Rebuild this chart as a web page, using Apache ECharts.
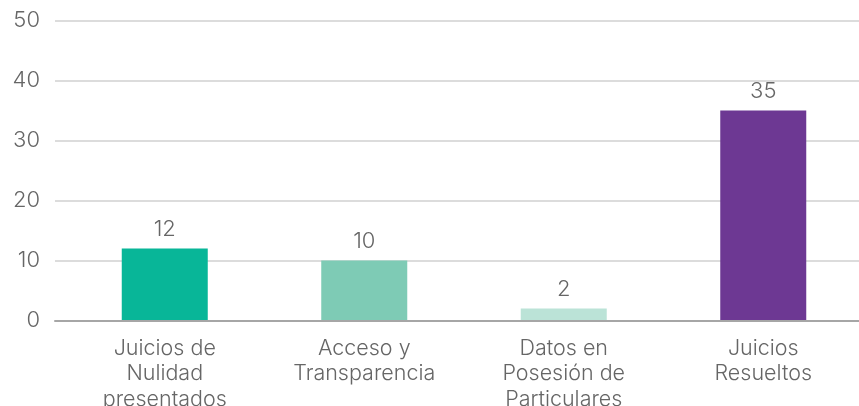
<!DOCTYPE html>
<html><head><meta charset="utf-8">
<script src="https://cdn.jsdelivr.net/npm/echarts@6/dist/echarts.min.js"></script>
<style>html,body{margin:0;padding:0;background:#fff}#c{width:859px;height:406px}</style>
</head><body><div id="c"></div>
<script>
const categories = ['Juicios de\nNulidad\npresentados', 'Acceso y\nTransparencia', 'Datos en\nPosesión de\nParticulares', 'Juicios\nResueltos'];
const values = [12, 10, 2, 35];
const barColors = ['#08b698', '#7ecbb5', '#bbe3d7', '#6d3893'];
const yTicks = [0, 10, 20, 30, 40, 50];

const FONT = 'Inter';
const TXT = '#666666';
const chart = echarts.init(document.getElementById('c'), null, {renderer: 'canvas'});
chart.setOption({
  animation: false,
  textStyle: {fontFamily: FONT, fontWeight: 300},
  grid: [
    {left: 55, right: 0, top: 20.5, bottom: 85.5, containLabel: false, outerBoundsMode: 'none'},
    {left: 65, width: 798, top: 20.5, bottom: 85.5, containLabel: false, outerBoundsMode: 'none'}
  ],
  xAxis: [
    {gridIndex: 0, type: 'category', data: [''], axisTick: {show: false}, axisLabel: {show: false},
     axisLine: {show: true, lineStyle: {color: '#a6a6a6', width: 2}}, z: 5},
    {gridIndex: 1, type: 'category', data: categories, axisTick: {show: false},
     axisLine: {show: false},
     axisLabel: {color: TXT, fontSize: 21.5, lineHeight: 25.5, margin: 15, interval: 0, fontFamily: FONT, fontWeight: 300}}
  ],
  yAxis: [
    {gridIndex: 0, type: 'value', min: yTicks[0], max: yTicks[yTicks.length - 1], interval: 10,
     axisLine: {show: false}, axisTick: {show: false},
     axisLabel: {color: TXT, fontSize: 22, margin: 15, fontFamily: FONT, fontWeight: 300},
     splitLine: {lineStyle: {color: '#d0d0d0', width: 1.5}}},
    {gridIndex: 1, type: 'value', min: yTicks[0], max: yTicks[yTicks.length - 1], interval: 10,
     show: false, splitLine: {show: false}}
  ],
  series: [{
    type: 'bar', xAxisIndex: 1, yAxisIndex: 1,
    barWidth: 86,
    data: values.map((v, i) => ({value: v, itemStyle: {color: barColors[i]}})),
    label: {show: true, position: 'top', distance: 8, color: TXT, fontSize: 22, fontFamily: FONT, fontWeight: 300}
  }]
});
</script></body></html>
